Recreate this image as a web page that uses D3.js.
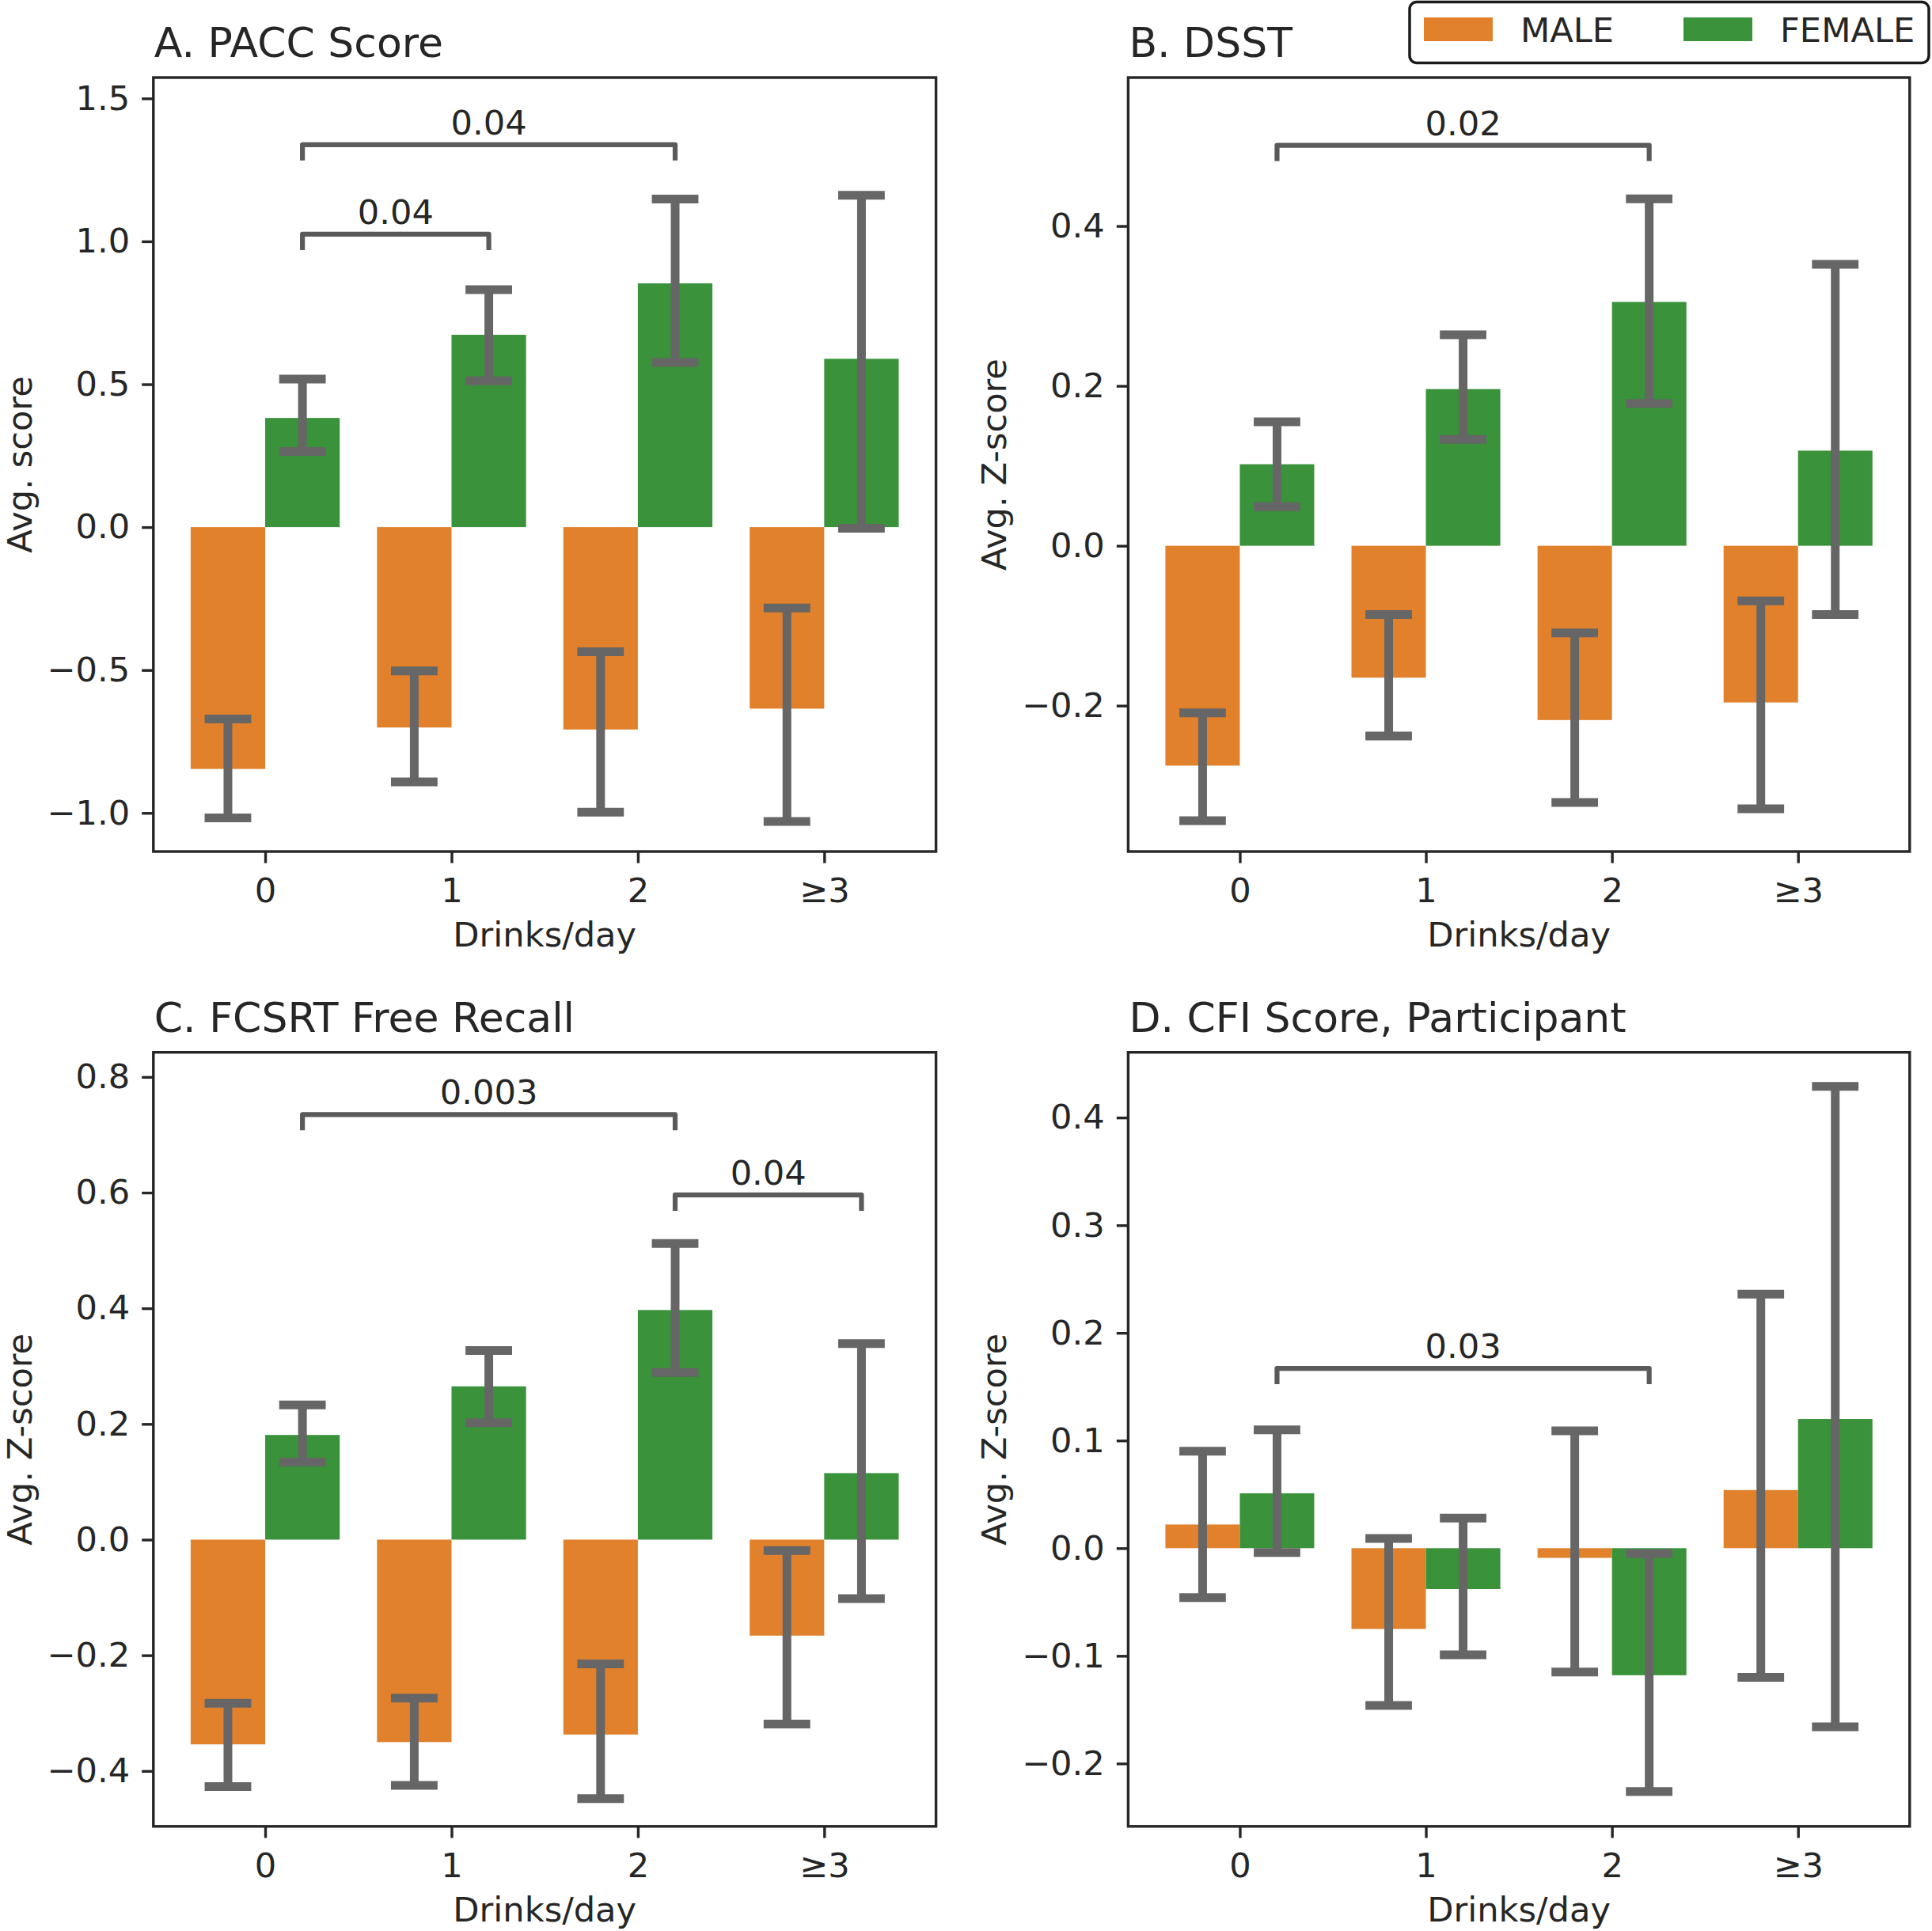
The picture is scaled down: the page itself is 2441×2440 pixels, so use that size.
<!DOCTYPE html>
<html>
<head>
<meta charset="utf-8">
<script src="https://cdn.jsdelivr.net/npm/d3@7"></script>
<style>
  html, body { margin: 0; padding: 0; background: #fff; }
  svg { display: block; }
  text { font-family: "DejaVu Sans", sans-serif; fill: #262626; }
</style>
</head>
<body>
<script>
// ---------------- DATA ----------------
const categories = ["0", "1", "2", "≥3"];
const seriesNames = ["MALE", "FEMALE"];
const seriesColors = ["#e1812c", "#3a923a"];

// A. PACC Score
const paccMale = [-0.846, -0.701, -0.708, -0.635];
const paccMaleCI = [[-1.017, -0.671], [-0.891, -0.503], [-0.997, -0.436], [-1.030, -0.283]];
const paccFemale = [0.382, 0.673, 0.853, 0.589];
const paccFemaleCI = [[0.265, 0.518], [0.512, 0.831], [0.576, 1.148], [-0.004, 1.161]];
const paccTicks = [-1.0, -0.5, 0.0, 0.5, 1.0, 1.5];
const paccBrackets = [{from: 0.2, to: 2.2, y: 1.338, label: "0.04"}, {from: 0.2, to: 1.2, y: 1.025, label: "0.04"}];

// B. DSST
const dsstMale = [-0.275, -0.165, -0.218, -0.196];
const dsstMaleCI = [[-0.344, -0.209], [-0.238, -0.086], [-0.321, -0.109], [-0.329, -0.069]];
const dsstFemale = [0.102, 0.196, 0.305, 0.119];
const dsstFemaleCI = [[0.049, 0.155], [0.133, 0.264], [0.178, 0.434], [-0.086, 0.352]];
const dsstTicks = [-0.2, 0.0, 0.2, 0.4];
const dsstBrackets = [{from: 0.2, to: 2.2, y: 0.501, label: "0.02"}];

// C. FCSRT Free Recall
const fcsrtMale = [-0.354, -0.350, -0.337, -0.166];
const fcsrtMaleCI = [[-0.427, -0.283], [-0.425, -0.274], [-0.448, -0.215], [-0.319, -0.019]];
const fcsrtFemale = [0.181, 0.265, 0.397, 0.115];
const fcsrtFemaleCI = [[0.134, 0.233], [0.202, 0.327], [0.289, 0.512], [-0.102, 0.339]];
const fcsrtTicks = [-0.4, -0.2, 0.0, 0.2, 0.4, 0.6, 0.8];
const fcsrtBrackets = [{from: 0.2, to: 2.2, y: 0.735, label: "0.003"}, {from: 2.2, to: 3.2, y: 0.596, label: "0.04"}];

// D. CFI Score, Participant
const cfiMale = [0.022, -0.075, -0.009, 0.054];
const cfiMaleCI = [[-0.046, 0.090], [-0.146, 0.009], [-0.115, 0.109], [-0.120, 0.236]];
const cfiFemale = [0.051, -0.038, -0.118, 0.120];
const cfiFemaleCI = [[-0.004, 0.110], [-0.099, 0.028], [-0.226, -0.005], [-0.166, 0.429]];
const cfiTicks = [-0.2, -0.1, 0.0, 0.1, 0.2, 0.3, 0.4];
const cfiBrackets = [{from: 0.2, to: 2.2, y: 0.167, label: "0.03"}];

// ---------------- LAYOUT ----------------
const W = 2441, H = 2440;
const FS = 43.2, TFS = 52;
const panels = [
  {title: "A. PACC Score", ylabel: "Avg. score", male: paccMale, maleCI: paccMaleCI, female: paccFemale, femaleCI: paccFemaleCI,
   ticks: paccTicks, brackets: paccBrackets, ydom: [-1.135, 1.573], x0: 193.8, x1: 1182.6, y0: 98, y1: 1076},
  {title: "B. DSST", ylabel: "Avg. Z-score", male: dsstMale, maleCI: dsstMaleCI, female: dsstFemale, femaleCI: dsstFemaleCI,
   ticks: dsstTicks, brackets: dsstBrackets, ydom: [-0.3825, 0.5857], x0: 1425.4, x1: 2412.8, y0: 98, y1: 1076},
  {title: "C. FCSRT Free Recall", ylabel: "Avg. Z-score", male: fcsrtMale, maleCI: fcsrtMaleCI, female: fcsrtFemale, femaleCI: fcsrtFemaleCI,
   ticks: fcsrtTicks, brackets: fcsrtBrackets, ydom: [-0.4958, 0.8426], x0: 193.8, x1: 1182.6, y0: 1329.7, y1: 2307.8},
  {title: "D. CFI Score, Participant", ylabel: "Avg. Z-score", male: cfiMale, maleCI: cfiMaleCI, female: cfiFemale, femaleCI: cfiFemaleCI,
   ticks: cfiTicks, brackets: cfiBrackets, ydom: [-0.2584, 0.4606], x0: 1425.4, x1: 2412.8, y0: 1329.7, y1: 2307.8}
];

const svg = d3.select("body").append("svg").attr("width", W).attr("height", H);
svg.append("rect").attr("width", W).attr("height", H).attr("fill", "#fff");

const fmt = d => (d < 0 ? "\u2212" : "") + Math.abs(d).toFixed(1);
const barW = 0.4, capHalf = 0.125;

panels.forEach(p => {
  const x = d3.scaleLinear().domain([-0.6, 3.6]).range([p.x0, p.x1]);
  const y = d3.scaleLinear().domain(p.ydom).range([p.y1, p.y0]);
  const g = svg.append("g");

  // bars
  const groups = [
    {vals: p.male, ci: p.maleCI, off: -barW, color: seriesColors[0]},
    {vals: p.female, ci: p.femaleCI, off: 0, color: seriesColors[1]}
  ];
  groups.forEach(s => {
    g.selectAll(null).data(s.vals).enter().append("rect")
      .attr("x", (d, i) => x(i + s.off))
      .attr("width", x(barW) - x(0))
      .attr("y", d => Math.min(y(d), y(0)))
      .attr("height", d => Math.abs(y(d) - y(0)))
      .attr("fill", s.color);
  });
  // error bars
  groups.forEach(s => {
    const eg = g.selectAll(null).data(s.ci).enter().append("g")
      .attr("stroke", "#666666").attr("stroke-width", 11).attr("fill", "none");
    const cx = i => i + s.off + barW / 2;
    eg.append("line").attr("x1", (d, i) => x(cx(i))).attr("x2", (d, i) => x(cx(i)))
      .attr("y1", d => y(d[0])).attr("y2", d => y(d[1]));
    eg.append("line").attr("x1", (d, i) => x(cx(i) - capHalf)).attr("x2", (d, i) => x(cx(i) + capHalf))
      .attr("y1", d => y(d[0])).attr("y2", d => y(d[0]));
    eg.append("line").attr("x1", (d, i) => x(cx(i) - capHalf)).attr("x2", (d, i) => x(cx(i) + capHalf))
      .attr("y1", d => y(d[1])).attr("y2", d => y(d[1]));
  });

  // significance brackets
  p.brackets.forEach(b => {
    const drop = 20;
    g.append("path")
      .attr("d", `M${x(b.from)},${y(b.y) + drop}V${y(b.y)}H${x(b.to)}V${y(b.y) + drop}`)
      .attr("fill", "none").attr("stroke", "#5a5a5a").attr("stroke-width", 6.2)
      .attr("stroke-linejoin", "round");
    g.append("text").attr("x", x((b.from + b.to) / 2)).attr("y", y(b.y) - 13)
      .attr("text-anchor", "middle").attr("font-size", FS).text(b.label);
  });

  // axes
  const yAxis = d3.axisLeft(y).tickValues(p.ticks).tickFormat(fmt).tickSize(14.6).tickPadding(15);
  const ya = svg.append("g").attr("transform", `translate(${p.x0},0)`).call(yAxis);
  const xAxis = d3.axisBottom(x).tickValues([0, 1, 2, 3]).tickFormat(i => categories[i]).tickSize(14.6).tickPadding(19);
  const xa = svg.append("g").attr("transform", `translate(0,${p.y1})`).call(xAxis);
  [ya, xa].forEach(a => {
    a.select(".domain").remove();
    a.selectAll(".tick line").attr("stroke", "#262626").attr("stroke-width", 3.4);
    a.selectAll(".tick text").attr("font-size", FS).attr("fill", "#262626")
      .attr("font-family", "DejaVu Sans, sans-serif");
  });

  // frame
  svg.append("rect").attr("x", p.x0).attr("y", p.y0).attr("width", p.x1 - p.x0).attr("height", p.y1 - p.y0)
    .attr("fill", "none").attr("stroke", "#262626").attr("stroke-width", 3.4);

  // labels
  svg.append("text").attr("x", p.x0 + 1).attr("y", p.y0 - 26).attr("font-size", TFS).text(p.title);
  svg.append("text").attr("x", (p.x0 + p.x1) / 2).attr("y", p.y1 + 120)
    .attr("text-anchor", "middle").attr("font-size", FS).text("Drinks/day");
  svg.append("text").attr("transform", `translate(${p.x0 - 154},${(p.y0 + p.y1) / 2}) rotate(-90)`)
    .attr("text-anchor", "middle").attr("font-size", FS).text(p.ylabel);
});

// legend
const lg = svg.append("g");
lg.append("rect").attr("x", 1781).attr("y", 2.5).attr("width", 656).attr("height", 77).attr("rx", 9)
  .attr("fill", "#fff").attr("stroke", "#1a1a1a").attr("stroke-width", 3.5);
const legX = [1799, 2127];
seriesNames.forEach((n, i) => {
  lg.append("rect").attr("x", legX[i]).attr("y", 22).attr("width", 87).attr("height", 30).attr("fill", seriesColors[i]);
  lg.append("text").attr("x", legX[i] + 122).attr("y", 53).attr("font-size", FS).text(n);
});
</script>
</body>
</html>
